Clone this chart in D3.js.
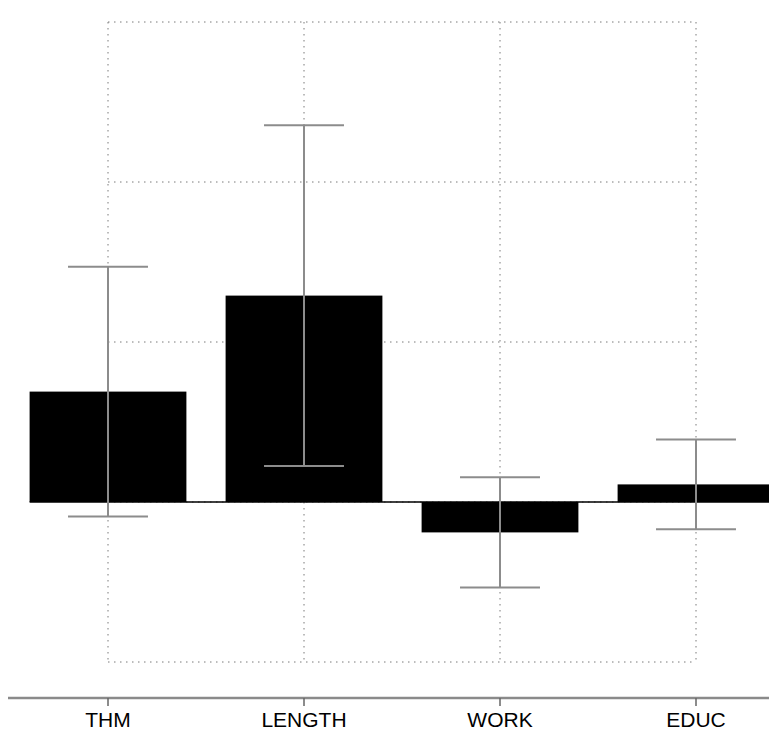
<!DOCTYPE html>
<html>
<head>
<meta charset="utf-8">
<script src="https://cdn.jsdelivr.net/npm/d3@7"></script>
<style>
  body { margin: 0; background: #fff; }
</style>
</head>
<body>
<div id="chart"></div>
<script>
// data
const categories = ["THM", "LENGTH", "WORK", "EDUC"];
const means = [0.69, 1.29, -0.19, 0.11];
const errors = [0.78, 1.065, 0.345, 0.28];
const gridTicks = [-1, 0, 1, 2, 3];

const width = 769, height = 734;

const svg = d3.select('#chart').append('svg')
  .attr('width', width)
  .attr('height', height);

// scales
const x = d3.scaleBand()
  .domain(categories)
  .range([10, 794])
  .paddingInner(0.2)
  .paddingOuter(0.1);

const y = d3.scaleLinear()
  .domain([-1, 3])
  .range([662, 22]);

const cx = d => x(d) + x.bandwidth() / 2;
const gridLeft = cx(categories[0]), gridRight = cx(categories[categories.length - 1]);

// dotted grid
const grid = svg.append('g')
  .attr('stroke', '#7a7a7a')
  .attr('stroke-width', 1)
  .attr('stroke-dasharray', '1.5,4.5');

grid.selectAll('line.h')
  .data(gridTicks)
  .join('line')
  .attr('class', 'h')
  .attr('x1', gridLeft)
  .attr('x2', gridRight)
  .attr('y1', d => y(d))
  .attr('y2', d => y(d));

grid.selectAll('line.v')
  .data(categories)
  .join('line')
  .attr('class', 'v')
  .attr('x1', cx)
  .attr('x2', cx)
  .attr('y1', y(3))
  .attr('y2', y(-1));

// bars
const rows = categories.map((c, i) => ({ cat: c, mean: means[i], err: errors[i] }));

svg.append('g').selectAll('rect')
  .data(rows)
  .join('rect')
  .attr('x', d => x(d.cat))
  .attr('width', x.bandwidth())
  .attr('y', d => y(Math.max(0, d.mean)))
  .attr('height', d => Math.abs(y(d.mean) - y(0)))
  .attr('fill', '#000');

// zero baseline
svg.append('line')
  .attr('x1', x(categories[0]))
  .attr('x2', 794)
  .attr('y1', y(0))
  .attr('y2', y(0))
  .attr('stroke', '#000')
  .attr('stroke-width', 1.5);

// error bars
const capHalf = x.bandwidth() * 0.255;
const eb = svg.append('g')
  .attr('stroke', '#8c8c8c')
  .attr('stroke-width', 2);

eb.selectAll('line.stem')
  .data(rows)
  .join('line')
  .attr('class', 'stem')
  .attr('x1', d => cx(d.cat))
  .attr('x2', d => cx(d.cat))
  .attr('y1', d => y(d.mean + d.err))
  .attr('y2', d => y(d.mean - d.err));

eb.selectAll('line.capTop')
  .data(rows)
  .join('line')
  .attr('class', 'capTop')
  .attr('x1', d => cx(d.cat) - capHalf)
  .attr('x2', d => cx(d.cat) + capHalf)
  .attr('y1', d => y(d.mean + d.err))
  .attr('y2', d => y(d.mean + d.err));

eb.selectAll('line.capBot')
  .data(rows)
  .join('line')
  .attr('class', 'capBot')
  .attr('x1', d => cx(d.cat) - capHalf)
  .attr('x2', d => cx(d.cat) + capHalf)
  .attr('y1', d => y(d.mean - d.err))
  .attr('y2', d => y(d.mean - d.err));

// category axis at the bottom
const axisG = svg.append('g')
  .attr('transform', 'translate(0,698)')
  .call(d3.axisBottom(x).tickSize(8).tickPadding(6));

axisG.select('.domain')
  .attr('d', 'M8,0H769')
  .attr('stroke', '#8a8a8a')
  .attr('stroke-width', 2.5);

axisG.selectAll('.tick line')
  .attr('stroke', '#666')
  .attr('stroke-width', 1.5);

axisG.selectAll('.tick text')
  .attr('fill', '#000')
  .attr('font-family', '"Liberation Sans", Arial, sans-serif')
  .attr('font-size', 21)
  .attr('dy', '0.71em');
</script>
</body>
</html>
